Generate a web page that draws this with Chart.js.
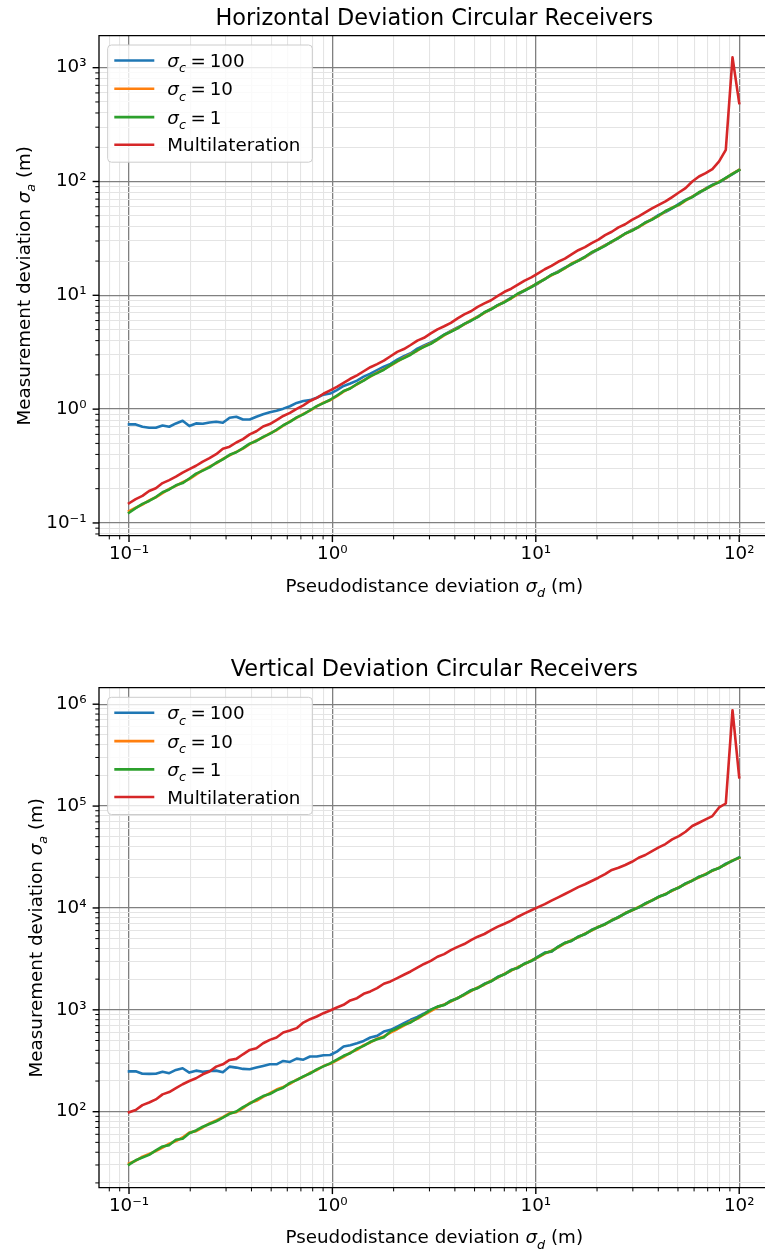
<!DOCTYPE html>
<html><head><meta charset="utf-8">
<script src="https://cdn.jsdelivr.net/npm/chart.js@4.4.1/dist/chart.umd.min.js"></script>
<style>
html,body{margin:0;padding:0;background:#fff;overflow:hidden;width:765px;height:1251px;}
canvas{position:absolute;left:0;}
#c1{top:0;}
#c2{top:640px;}
</style></head><body>
<canvas id="c1" width="765" height="620"></canvas>
<canvas id="c2" width="765" height="611"></canvas>
<script>
// ---------- data ----------
const sigmaD = [0.1,0.1079,0.1164,0.1256,0.1355,0.1462,0.1577,0.1701,0.1835,0.198,
0.2136,0.2305,0.2487,0.2683,0.2894,0.3123,0.3369,0.3634,0.3921,0.423,
0.4564,0.4924,0.5312,0.5731,0.6183,0.6671,0.7197,0.7764,0.8377,0.9037,
0.975,1.052,1.135,1.224,1.321,1.425,1.537,1.659,1.79,1.931,
2.083,2.247,2.424,2.616,2.822,3.045,3.285,3.544,3.823,4.125,
4.45,4.801,5.179,5.588,6.029,6.504,7.017,7.571,8.168,8.812,
9.507,10.26,11.07,11.94,12.88,13.9,14.99,16.17,17.45,18.82,
20.31,21.91,23.64,25.5,27.52,29.69,32.03,34.55,37.28,40.22,
43.39,46.81,50.5,54.49,58.78,63.42,68.42,73.82,79.64,85.92,
92.7,100];

const horizSigmaC100 = [0.734,0.734,0.70,0.686,0.686,0.719,0.70,0.749,0.79,0.71,
0.749,0.745,0.764,0.774,0.76,0.84,0.857,0.81,0.81,0.857,
0.90,0.94,0.967,1.01,1.06,1.135,1.18,1.20,1.26,1.34,
1.37,1.47,1.60,1.68,1.78,1.93,2.05,2.20,2.36,2.50,
2.72,2.92,3.10,3.40,3.62,3.85,4.15,4.52,4.86,5.22,
5.58,5.98,6.51,7.05,7.58,8.21,8.75,9.55,10.2,11.0,
11.9,12.7,13.9,15.1,16.2,17.5,18.7,20.3,21.7,23.5,
25.5,27.6,29.4,32.0,34.8,37.5,39.6,43.6,46.5,50.9,
53.8,58.0,63.5,68.9,73.5,79.0,86.8,93.5,98.2,107.0,
116.0,126.5];

const horizSigmaC10 = [0.127,0.136,0.145,0.158,0.168,0.183,0.199,0.212,0.228,0.243,
0.266,0.291,0.312,0.334,0.365,0.392,0.421,0.450,0.493,0.530,
0.565,0.612,0.652,0.715,0.780,0.838,0.908,0.970,1.055,1.140,
1.198,1.302,1.425,1.532,1.648,1.795,1.930,2.090,2.240,2.410,
2.620,2.830,3.040,3.260,3.560,3.780,4.070,4.450,4.820,5.160,
5.550,6.060,6.480,7.020,7.600,8.120,8.790,9.380,10.25,11.10,
11.90,12.80,13.95,15.00,16.10,17.25,19.05,20.20,21.60,23.70,
25.60,27.45,29.50,32.20,34.60,37.20,39.70,43.10,46.80,49.80,
54.50,59.10,62.00,68.00,73.60,79.70,86.40,92.10,99.70,106.5,
117.5,127.0];

const horizSigmaC1 = [0.123,0.135,0.147,0.156,0.169,0.186,0.197,0.214,0.224,0.246,
0.271,0.288,0.308,0.338,0.362,0.397,0.418,0.454,0.498,0.525,
0.571,0.606,0.659,0.722,0.773,0.847,0.900,0.978,1.064,1.130,
1.209,1.315,1.441,1.518,1.664,1.781,1.952,2.074,2.220,2.433,
2.645,2.809,3.006,3.296,3.528,3.745,4.106,4.501,4.779,5.115,
5.607,6.001,6.422,7.097,7.536,8.195,8.701,9.464,10.37,11.02,
11.79,12.93,13.84,15.16,15.97,17.38,18.89,20.05,21.81,23.90,
25.39,27.17,29.79,31.88,34.95,36.82,40.04,43.53,46.23,50.28,
55.11,58.51,62.62,68.66,72.89,80.54,85.53,93.01,98.75,107.4,
116.8,126.0];

const horizMultilat = [0.149,0.162,0.173,0.191,0.202,0.224,0.238,0.255,0.277,0.297,
0.318,0.346,0.371,0.402,0.449,0.468,0.509,0.545,0.600,0.639,
0.703,0.739,0.802,0.871,0.927,1.007,1.080,1.180,1.257,1.365,
1.463,1.567,1.703,1.848,1.982,2.152,2.336,2.489,2.667,2.916,
3.187,3.371,3.660,4.002,4.233,4.628,5.026,5.351,5.735,6.270,
6.809,7.250,7.924,8.494,9.044,9.886,10.74,11.43,12.42,13.48,
14.36,15.60,16.94,18.15,19.71,20.99,22.93,24.90,26.52,28.79,
30.87,33.74,36.17,39.53,42.11,46.02,49.33,53.55,58.16,62.34,
66.8,73.0,80.0,87.5,100.0,110.6,118.5,128.5,150.0,190.0,
1233,488];

const vertSigmaC100 = [249,249,236,235,236,247,239,257,267,242,
253,247,251,253,244,277,271,263,261,271,
281,292,292,315,308,332,324,348,348,358,
360,389,436,450,470,495,535,555,612,636,
685,740,798,850,920,1005,1070,1120,1230,1300,
1420,1560,1640,1800,1910,2110,2240,2470,2580,2850,
3010,3330,3650,3720,4180,4550,4740,5250,5530,6100,
6480,6980,7500,8150,8820,9550,10080,11100,11800,12950,
13550,14950,15800,17400,18500,20300,21300,23400,24600,27200,
29000,31500];

const vertSigmaC10 = [31.0,33.0,36.2,38.5,41.0,44.5,48.5,51.5,55.8,62.5,
64.5,70.0,76.8,82.0,88.5,96.8,99.0,108.5,121.5,128.0,
140,152.5,165,175,188,206,220,241,256,281,
295,320,345,380,405,450,478,520,548,598,
645,700,768,815,895,972,1060,1128,1205,1310,
1398,1530,1660,1765,1930,2070,2260,2420,2630,2810,
3050,3280,3560,3800,4100,4480,4830,5150,5600,6000,
6550,6880,7620,8050,8920,9420,10250,10900,11950,12750,
13750,14700,16000,17150,18700,19900,21600,23100,24900,26700,
29300,31000];

const vertSigmaC1 = [30.2,33.4,35.5,37.7,41.7,45.6,47.0,53.1,54.3,61.4,
65.4,71.2,75.6,80.5,87.4,95.3,100.4,110.8,120.0,131.1,
142.4,149.2,162.0,171.9,191.7,204.1,222.4,236.8,260.5,278.3,
298.4,324.0,354.1,374.5,416.1,443.2,485.7,514.3,537.0,614.1,
658.2,714.5,751.4,826.7,905,1000,1075,1113,1223,1299,
1415,1546,1637,1788,1905,2094,2231,2453,2597,2837,
3023,3304,3609,3749,4147,4531,4767,5207,5549,6060,
6499,6924,7565,8109,8861,9501,10121,11056,11855,12870,
13624,14886,15857,17328,18574,20168,21347,23327,24688,26979,
29108,31200];

const vertMultilat = [98.7,104,116,123,132,148,156,170,186,200,
213,233,248,277,292,322,330,366,404,420,
470,507,535,598,626,661,750,809,860,927,
985,1054,1120,1236,1302,1437,1515,1634,1802,1900,
2050,2210,2380,2590,2820,3020,3320,3520,3850,4150,
4420,4830,5220,5550,6050,6560,7000,7520,8200,8850,
9500,10200,10900,11800,12700,13700,14800,16000,17100,18400,
19800,21500,23600,24800,26400,28400,31100,33100,36200,39300,
42400,47100,50800,56000,63700,68600,74000,79800,97000,106000,
873000,191000];

const seriesNames = ['σc = 100', 'σc = 10', 'σc = 1', 'Multilateration'];
const sigmaCValues = ['100', '10', '1'];
const seriesColors = ['#1f77b4', '#ff7f0e', '#2ca02c', '#d62728'];

const xTickDecades = [0.1, 1, 10, 100];
const xTickLabels = ['10⁻¹', '10⁰', '10¹', '10²'];
const horizYDecades = [0.1, 1, 10, 100, 1000];
const horizYLabels = ['10⁻¹', '10⁰', '10¹', '10²', '10³'];
const vertYDecades = [100, 1000, 10000, 100000, 1000000];
const vertYLabels = ['10²', '10³', '10⁴', '10⁵', '10⁶'];

const titles = ['Horizontal Deviation Circular Receivers', 'Vertical Deviation Circular Receivers'];

// ---------- helpers ----------
const FONT = '"DejaVu Sans"';
const FS = 18.3;
function isDecade(v){ const l = Math.log10(v); return Math.abs(l - Math.round(l)) < 1e-6; }
function logTicks(min, max){
  const out = [];
  for (let e = Math.floor(Math.log10(min)); e <= Math.ceil(Math.log10(max)); e++){
    for (let m = 1; m <= 9; m++){
      const v = m * Math.pow(10, e);
      if (v > min * 1.0001 && v < max * 0.9999) out.push(v);
    }
  }
  return out;
}
function labelFor(decades, labels){
  return function(v){
    if (!isDecade(v)) return '';
    for (let i = 0; i < decades.length; i++) if (Math.abs(Math.log10(decades[i]) - Math.log10(v)) < 1e-6) return labels[i];
    return '';
  };
}
function drawRich(ctx, segs, x, y, size, align){
  const items = segs.map(s => {
    const sz = s.sub ? size * 0.7 : size;
    const f = (s.it ? 'italic ' : '') + sz + 'px ' + FONT;
    ctx.font = f;
    return {t: s.t, f, w: ctx.measureText(s.t).width, dy: s.sub ? size * 0.3 : 0, pre: s.pre || 0};
  });
  const total = items.reduce((a, b) => a + b.w + b.pre, 0);
  let cx = align === 'center' ? x - total / 2 : x;
  ctx.textAlign = 'left';
  ctx.textBaseline = 'alphabetic';
  for (const it of items){ cx += it.pre; ctx.font = it.f; ctx.fillText(it.t, cx, y + it.dy); cx += it.w; }
}
function legendSegs(i){
  if (i < 3) return [{t:'σ', it:1}, {t:'c', it:1, sub:1}, {t:'=', pre:4.5}, {t:sigmaCValues[i], pre:4}];
  return [{t: seriesNames[3]}];
}

// axes box: left/top/bottom spines; the right spine of the original lies just past the picture edge
const framePlugin = {
  id: 'frame',
  afterDatasetsDraw(chart, args, o){
    const ctx = chart.ctx, a = chart.chartArea;
    const xs = chart.scales.x, ys = chart.scales.y;
    ctx.save();
    ctx.strokeStyle = '#000';
    for (const t of xs.ticks){
      const p = xs.getPixelForValue(t.value), maj = isDecade(t.value);
      ctx.lineWidth = maj ? 1.4 : 1.0;
      ctx.beginPath(); ctx.moveTo(p, a.bottom); ctx.lineTo(p, a.bottom + (maj ? 6.4 : 3.7)); ctx.stroke();
    }
    for (const t of ys.ticks){
      const p = ys.getPixelForValue(t.value), maj = isDecade(t.value);
      ctx.lineWidth = maj ? 1.4 : 1.0;
      ctx.beginPath(); ctx.moveTo(a.left, p); ctx.lineTo(a.left - (maj ? 6.4 : 3.7), p); ctx.stroke();
    }
    ctx.lineWidth = 1.3;
    ctx.beginPath();
    ctx.moveTo(a.right + 2, a.top); ctx.lineTo(a.left, a.top); ctx.lineTo(a.left, a.bottom); ctx.lineTo(a.right + 2, a.bottom);
    ctx.stroke();
    ctx.restore();
  },
  afterDraw(chart, args, o){
    const ctx = chart.ctx, a = chart.chartArea;
    const cxm = o.axesCenterX, cym = (a.top + a.bottom) / 2;
    ctx.save();
    ctx.fillStyle = '#000';
    ctx.font = '22.4px ' + FONT;
    ctx.textAlign = 'center'; ctx.textBaseline = 'alphabetic';
    ctx.fillText(o.title, cxm, o.titleY);
    drawRich(ctx, [{t:'Pseudodistance deviation '}, {t:'σ', it:1}, {t:'d', it:1, sub:1}, {t:' (m)'}], cxm, o.xTitleY, FS, 'center');
    ctx.save();
    ctx.translate(o.yTitleX, cym);
    ctx.rotate(-Math.PI / 2);
    drawRich(ctx, [{t:'Measurement deviation '}, {t:'σ', it:1}, {t:'a', it:1, sub:1}, {t:' (m)'}], 0, 0, FS, 'center');
    ctx.restore();
    // legend
    const lx = 107.7, ly = o.legendTop, lw = 204.6, lh = 117.2, r = 3.7;
    ctx.beginPath();
    ctx.moveTo(lx + r, ly); ctx.lineTo(lx + lw - r, ly); ctx.arcTo(lx + lw, ly, lx + lw, ly + r, r);
    ctx.lineTo(lx + lw, ly + lh - r); ctx.arcTo(lx + lw, ly + lh, lx + lw - r, ly + lh, r);
    ctx.lineTo(lx + r, ly + lh); ctx.arcTo(lx, ly + lh, lx, ly + lh - r, r);
    ctx.lineTo(lx, ly + r); ctx.arcTo(lx, ly, lx + r, ly, r); ctx.closePath();
    ctx.fillStyle = 'rgba(255,255,255,0.8)'; ctx.fill();
    ctx.strokeStyle = '#cccccc'; ctx.lineWidth = 1; ctx.stroke();
    const rows = [15.5, 43.8, 72.1, 99.7];
    chart.data.datasets.forEach((ds, i) => {
      const yy = ly + rows[i];
      ctx.strokeStyle = ds.borderColor; ctx.lineWidth = 2.6; ctx.lineCap = 'butt';
      ctx.beginPath(); ctx.moveTo(114.3, yy); ctx.lineTo(154.3, yy); ctx.stroke();
      ctx.fillStyle = '#000';
      drawRich(ctx, legendSegs(i), 167.3, yy + 6.5, FS, 'left');
    });
    ctx.restore();
  }
};

function makeChart(id, series, yDecades, yLabels, yMin, yMax, topPad, canvasH, plotBottom, frameOpts){
  // visible x range: the axes continue slightly past the right picture edge (to 10^2.15)
  const xMin = Math.pow(10, -1.1475), xMax = Math.pow(10, 2.1268);
  const orders = [3, 2, 1, 0];
  const gridColor = c => (c.tick && isDecade(c.tick.value)) ? '#808080' : '#e4e4e4';
  const gridWidth = c => (c.tick && isDecade(c.tick.value)) ? 1.3 : 1.1;
  return new Chart(document.getElementById(id), {
    type: 'line',
    data: {
      datasets: series.map((arr, i) => ({
        label: seriesNames[i],
        data: sigmaD.map((x, k) => ({x: x, y: arr[k]})),
        borderColor: seriesColors[i],
        backgroundColor: seriesColors[i],
        borderWidth: 2.6,
        pointRadius: 0,
        tension: 0,
        fill: false,
        order: orders[i],
        borderJoinStyle: 'round',
        borderCapStyle: 'square'
      }))
    },
    options: {
      responsive: false,
      animation: false,
      devicePixelRatio: 1,
      layout: {padding: {left: 0, top: topPad, right: 0, bottom: 0}},
      plugins: {legend: {display: false}, title: {display: false}, tooltip: {enabled: false}, frame: frameOpts},
      scales: {
        x: {
          type: 'logarithmic', min: xMin, max: xMax,
          afterBuildTicks: s => { s.ticks = logTicks(xMin, xMax).map(v => ({value: v})); },
          afterFit: s => { s.height = canvasH - plotBottom; },
          grid: {color: gridColor, lineWidth: gridWidth, drawTicks: false},
          border: {display: false},
          ticks: {autoSkip: false, maxRotation: 0, minRotation: 0, padding: 8, color: '#000',
                  font: {family: 'DejaVu Sans', size: FS}, callback: labelFor(xTickDecades, xTickLabels)}
        },
        y: {
          type: 'logarithmic', min: yMin, max: yMax,
          afterBuildTicks: s => { s.ticks = logTicks(yMin, yMax).map(v => ({value: v})); },
          afterFit: s => { s.width = 99; },
          grid: {color: gridColor, lineWidth: gridWidth, drawTicks: false},
          border: {display: false},
          ticks: {autoSkip: false, padding: 12.5, color: '#000',
                  font: {family: 'DejaVu Sans', size: FS}, callback: labelFor(yDecades, yLabels)}
        }
      }
    },
    plugins: [framePlugin]
  });
}

makeChart('c1', [horizSigmaC100, horizSigmaC10, horizSigmaC1, horizMultilat],
  horizYDecades, horizYLabels, Math.pow(10, -1.112), Math.pow(10, 3.281), 35.7, 620, 535.7,
  {title: titles[0], titleY: 25, xTitleY: 591.7, yTitleX: 30, legendTop: 45, axesCenterX: 434.3});
makeChart('c2', [vertSigmaC100, vertSigmaC10, vertSigmaC1, vertMultilat],
  vertYDecades, vertYLabels, Math.pow(10, 1.254), Math.pow(10, 6.162), 47.7, 611, 547.7,
  {title: titles[1], titleY: 36, xTitleY: 603.3, yTitleX: 41.7, legendTop: 57.3, axesCenterX: 434.3});
</script>
</body></html>
